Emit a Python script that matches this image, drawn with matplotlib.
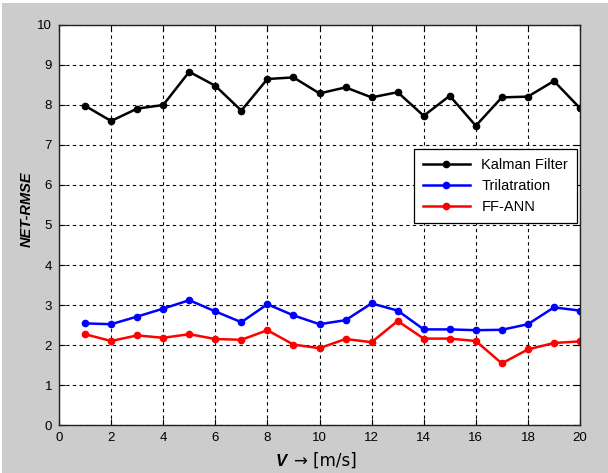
import numpy as np
import matplotlib
matplotlib.use("Agg")
import matplotlib.pyplot as plt
from matplotlib.patches import Rectangle

plt.rcParams["font.family"] = ["Liberation Sans", "DejaVu Sans"]

# ── RMSE per velocity step ───────────────────────────────────────────────────
velocity = [1, 2, 3, 4, 5, 6, 7, 8, 9, 10, 11, 12, 13, 14, 15, 16, 17, 18, 19, 20]
kalman = [7.98, 7.60, 7.91, 8.00, 8.83, 8.48, 7.86, 8.65, 8.69, 8.29,
          8.44, 8.19, 8.32, 7.73, 8.23, 7.48, 8.19, 8.21, 8.60, 7.92]
trilat = [2.54, 2.52, 2.71, 2.91, 3.12, 2.84, 2.57, 3.02, 2.74, 2.52,
          2.62, 3.04, 2.86, 2.39, 2.39, 2.37, 2.38, 2.52, 2.94, 2.86]
ffann = [2.27, 2.10, 2.24, 2.18, 2.27, 2.15, 2.13, 2.37, 2.01, 1.92,
         2.15, 2.07, 2.60, 2.16, 2.16, 2.10, 1.54, 1.89, 2.05, 2.09]

series = [("Kalman Filter", kalman, "black"),
          ("Trilatration", trilat, "blue"),
          ("FF-ANN", ffann, "red")]

W, H = 608, 473
fig = plt.figure(figsize=(W / 100, H / 100), dpi=100, facecolor="white")
# grey figure window
fig.patches.append(Rectangle((2 / W, 0), 1, 1 - 3 / H, transform=fig.transFigure,
                             facecolor="#cccccc", edgecolor="none", zorder=-10))

ax = fig.add_axes([59 / W, 1 - 425 / H, 521 / W, 400 / H])
ax.set_facecolor("white")

for name, vals, col in series:
    ax.plot(velocity, vals, "-", color=col, linewidth=1.8,
            marker="o", markersize=4.5, label=name)

ax.set_xlim(0, 20)
ax.set_ylim(0, 10)
ax.set_xticks(np.arange(0, 21, 2))
ax.set_yticks(np.arange(0, 11, 1))
ax.grid(True, color="black", linestyle=(0, (3, 3)), linewidth=0.8)
ax.tick_params(direction="in", length=4, labelsize=9.5, top=True, right=True,
               pad=5)
for sp in ax.spines.values():
    sp.set_color("#222222")
    sp.set_linewidth(1.0)

leg = ax.legend(loc="upper right", bbox_to_anchor=(0.994, 0.69), fontsize=10.5,
                fancybox=False, framealpha=1, edgecolor="black",
                handlelength=3.2, borderpad=0.6, labelspacing=0.5,
                borderaxespad=0)
leg.get_frame().set_linewidth(0.9)

# axis labels
fig.text(287 / W, 1 - 461 / H, "V", fontsize=12, fontweight="bold",
         fontstyle="italic", ha="right", va="center")
fig.text(294 / W, 1 - 461 / H, "\u2192 [m/s]", fontsize=12, ha="left",
         va="center", family=["DejaVu Sans"])
fig.text(27 / W, 1 - 209 / H, "NET-RMSE", fontsize=10.5, fontweight="bold",
         fontstyle="italic", rotation=90, ha="center", va="center")

fig.savefig("out.png", dpi=100, facecolor=fig.get_facecolor())
